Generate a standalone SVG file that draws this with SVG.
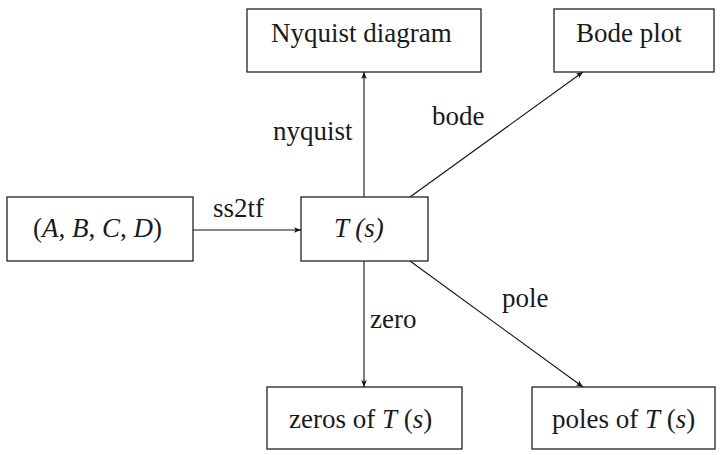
<svg xmlns="http://www.w3.org/2000/svg" width="727" height="455" viewBox="0 0 727 455">
  <style>
    .box { fill: #ffffff; stroke: #222222; stroke-width: 1.3; }
    .edge { fill: none; stroke: #111111; stroke-width: 1.1; marker-end: url(#arrow); }
    text { font-family: "Liberation Serif", "Times New Roman", serif; font-size: 27px; fill: #1a1a1a; }
    .it { font-style: italic; }
  </style>
  <defs>
    <marker id="arrow" viewBox="0 0 10 10" refX="10" refY="5" markerWidth="9" markerHeight="7" markerUnits="userSpaceOnUse" orient="auto">
      <path d="M0,1 L10,5 L0,9 L2.5,5 Z" fill="#111111"/>
    </marker>
  </defs>

  <g id="connectors">
    <line class="edge" x1="193" y1="230" x2="301" y2="230"/>
    <line class="edge" x1="364" y1="197" x2="364" y2="72"/>
    <line class="edge" x1="410" y1="197" x2="583" y2="72"/>
    <line class="edge" x1="364" y1="261" x2="364" y2="387"/>
    <line class="edge" x1="410" y1="261" x2="583" y2="387"/>
    <text x="213" y="217">ss2tf</text>
    <text x="273" y="140">nyquist</text>
    <text x="432" y="125">bode</text>
    <text x="370" y="328">zero</text>
    <text x="502" y="307">pole</text>
  </g>

  <g id="state-space">
    <rect class="box" x="7" y="197" width="186" height="64"/>
    <text x="33" y="237">(<tspan class="it">A</tspan>, <tspan class="it">B</tspan>, <tspan class="it">C</tspan>, <tspan class="it">D</tspan>)</text>
  </g>

  <g id="transfer-function">
    <rect class="box" x="301" y="197" width="127" height="64"/>
    <text class="it" x="334" y="237">T (s)</text>
  </g>

  <g id="nyquist-diagram">
    <rect class="box" x="247" y="9" width="234" height="63"/>
    <text x="271" y="42">Nyquist diagram</text>
  </g>

  <g id="bode-plot">
    <rect class="box" x="554" y="9" width="160" height="63"/>
    <text x="576" y="42">Bode plot</text>
  </g>

  <g id="zeros">
    <rect class="box" x="267" y="387" width="195" height="62"/>
    <text x="289" y="428">zeros of <tspan class="it">T</tspan> (<tspan class="it">s</tspan>)</text>
  </g>

  <g id="poles">
    <rect class="box" x="532" y="387" width="183" height="62"/>
    <text x="552" y="428">poles of <tspan class="it">T</tspan> (<tspan class="it">s</tspan>)</text>
  </g>
</svg>
